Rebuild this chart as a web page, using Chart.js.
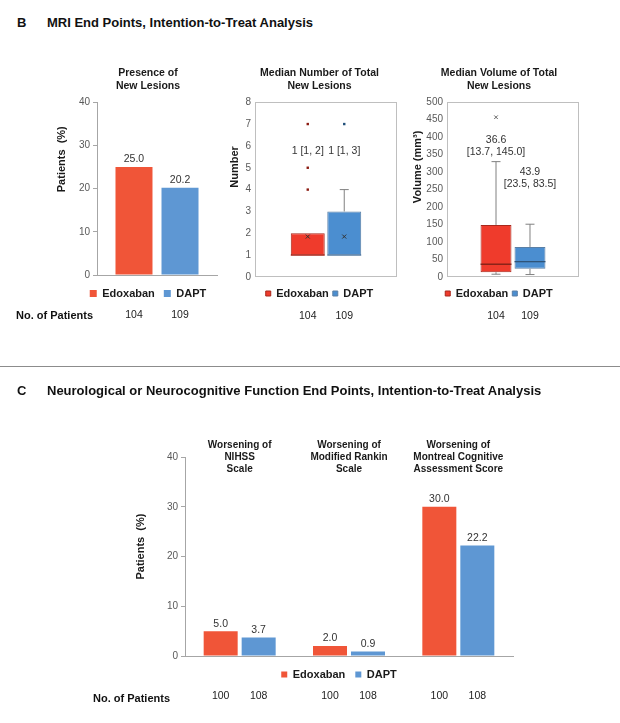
<!DOCTYPE html>
<html>
<head>
<meta charset="utf-8">
<script src="https://cdn.jsdelivr.net/npm/chart.js@4.4.1/dist/chart.umd.min.js"></script>
<style>
  body { margin: 0; background: #fff; font-family: "Liberation Sans", Arial, sans-serif; }
  #page { position: relative; width: 620px; height: 723px; }
  canvas { position: absolute; }
  .head { position: absolute; font-weight: bold; font-size: 13px; line-height: 14px; color: #111; white-space: nowrap; }
  .npat { position: absolute; font-weight: bold; font-size: 11px; line-height: 14px; color: #111; white-space: nowrap; }
  .rule { position: absolute; left: 0; top: 366px; width: 620px; height: 0; border-top: 1.5px solid #8c8c8c; }
</style>
</head>
<body>
<div id="page">
  <div class="head" style="left:17px;top:16px">B</div>
  <div class="head" style="left:47px;top:16px">MRI End Points, Intention-to-Treat Analysis</div>

  <canvas id="presence" width="185" height="263" style="left:40px;top:60px"></canvas>
  <canvas id="lesionCount" width="185" height="263" style="left:222px;top:60px"></canvas>
  <canvas id="lesionVolume" width="185" height="263" style="left:405px;top:60px"></canvas>
  <div class="npat" style="left:16px;top:308px">No. of Patients</div>

  <div class="rule"></div>

  <div class="head" style="left:17px;top:384px">C</div>
  <div class="head" style="left:47px;top:384px">Neurological or Neurocognitive Function End Points, Intention-to-Treat Analysis</div>

  <canvas id="neuro" width="398" height="270" style="left:125px;top:435px"></canvas>
  <div class="npat" style="left:93px;top:691px">No. of Patients</div>
</div>

<script>
// ---- data ----
const groups = ['Edoxaban', 'DAPT'];
const patientsMRI = [104, 109];

// B: presence of new lesions (%)
const lesionPresence = [25.0, 20.2];

// B: number of total new lesions (box plot)
const countQ1 = [1, 1];
const countQ3 = [2, 3];
const countMedian = [1, 1];
const countMean = [1.85, 1.85];
const countLow = [1, 1];
const countHigh = [2, 4];
const countOutliers = [[4, 5, 7], [7]];
const countNotes = [['1 [1, 2]'], ['1 [1, 3]']];

// B: volume of total new lesions, mm3 (box plot)
const volQ1 = [13.7, 23.5];
const volQ3 = [149, 86];
const volMedian = [36.6, 43.9];
const volLow = [8, 7];
const volHigh = [330, 151];
const volOutliers = [[457], []];
const volNotes = [['36.6', '[13.7, 145.0]'], ['43.9', '[23.5, 83.5]']];

// C: neurological end points (%)
const neuroCategories = [
  ['Worsening of', 'NIHSS', 'Scale'],
  ['Worsening of', 'Modified Rankin', 'Scale'],
  ['Worsening of', 'Montreal Cognitive', 'Assessment Score']
];
const neuroEdoxaban = [5.0, 2.0, 30.0];
const neuroDAPT = [3.7, 0.9, 22.2];
const patientsNeuro = [[100, 100, 100], [108, 108, 108]];

// ---- styles ----
const FONT = '"Liberation Sans", Arial, sans-serif';
const barRed = '#F05538';
const barBlue = '#5E97D3';
const boxRed = '#EF3B2C';
const boxBlue = '#4B8ED0';
const axisGray = '#A6A6A6';
const textDark = '#1a1a1a';

Chart.defaults.font.family = FONT;
Chart.defaults.color = textDark;

function cross(ctx, x, y, s, color) {
  ctx.strokeStyle = color;
  ctx.lineWidth = 1;
  ctx.beginPath();
  ctx.moveTo(x - s, y - s); ctx.lineTo(x + s, y + s);
  ctx.moveTo(x - s, y + s); ctx.lineTo(x + s, y - s);
  ctx.stroke();
}

// draws frame, whiskers, medians, value labels, notes, patient counts, y titles
const extras = {
  id: 'extras',
  afterDatasetsDraw(chart, args, o) {
    const ctx = chart.ctx, a = chart.chartArea, ys = chart.scales.y;
    ctx.save();
    if (o.frame) {
      ctx.strokeStyle = '#BFBFBF';
      ctx.lineWidth = 1;
      ctx.strokeRect(Math.round(a.left) + 0.5, Math.round(a.top) + 0.5, Math.round(a.width) - 1, Math.round(a.height) - 1);
    }
    chart.data.datasets.forEach((ds, i) => {
      chart.getDatasetMeta(i).data.forEach((bar, j) => {
        const x = bar.x, hw = bar.width / 2;
        if (o.box) {
          const b = o.box;
          const y1 = ys.getPixelForValue(ds.data[j][0]);
          const y3 = ys.getPixelForValue(ds.data[j][1]);
          ctx.strokeStyle = '#808080';
          ctx.lineWidth = 1;
          [[b.high[i], y3], [b.low[i], y1]].forEach(([v, edge]) => {
            const yy = ys.getPixelForValue(v);
            if (Math.abs(yy - edge) < 1) return;
            ctx.beginPath();
            ctx.moveTo(x, edge); ctx.lineTo(x, yy);
            ctx.moveTo(x - 4.5, yy); ctx.lineTo(x + 4.5, yy);
            ctx.stroke();
          });
          const my = ys.getPixelForValue(b.median[i]);
          ctx.strokeStyle = b.medianColors[i];
          ctx.lineWidth = 1.3;
          ctx.beginPath(); ctx.moveTo(x - hw, my); ctx.lineTo(x + hw, my); ctx.stroke();
          if (b.mean) cross(ctx, x, ys.getPixelForValue(b.mean[i]), 2, '#333');
          b.outliers[i].forEach(v => {
            const oy = ys.getPixelForValue(v);
            if (b.dots) {
              ctx.fillStyle = b.outlierColors[i];
              ctx.fillRect(x - 1.2, oy - 1.2, 2.4, 2.4);
            } else {
              cross(ctx, x, oy, 1.8, b.outlierColors[i]);
            }
          });
          if (b.notes) {
            ctx.fillStyle = '#333';
            ctx.font = '10.5px ' + FONT;
            ctx.textAlign = 'center';
            ctx.textBaseline = 'middle';
            b.notes[i].forEach((t, k) => ctx.fillText(t, x, ys.getPixelForValue(b.noteAt[i]) + k * 12));
          }
        }
        if (o.values) {
          ctx.fillStyle = '#333';
          ctx.font = '10.5px ' + FONT;
          ctx.textAlign = 'center';
          ctx.textBaseline = 'middle';
          ctx.fillText(ds.data[j].toFixed(1), x, bar.y - 7.5);
        }
        if (o.counts) {
          ctx.fillStyle = '#222';
          ctx.font = '10.5px ' + FONT;
          ctx.textAlign = 'center';
          ctx.textBaseline = 'middle';
          ctx.fillText(String(o.counts[i][j]), x, a.bottom + o.countOffset);
        }
      });
    });
    if (o.catTitles) {
      ctx.fillStyle = textDark;
      ctx.font = 'bold 10px ' + FONT;
      ctx.textAlign = 'center';
      ctx.textBaseline = 'middle';
      o.catTitles.forEach((lines, j) => {
        const x = chart.scales.x.getPixelForValue(j);
        lines.forEach((t, k) => ctx.fillText(t, x, a.top - 12 + k * 12.2));
      });
    }
    if (o.yTitle) {
      ctx.translate(o.yTitle.x, a.top + a.height * o.yTitle.at);
      ctx.rotate(-Math.PI / 2);
      ctx.fillStyle = textDark;
      ctx.font = 'bold 11px ' + FONT;
      ctx.textAlign = 'center';
      ctx.textBaseline = 'middle';
      ctx.fillText(o.yTitle.text, 0, 0);
    }
    ctx.restore();
  }
};
Chart.register(extras);

function makeOptions(p) {
  return {
    responsive: false,
    animation: false,
    layout: { padding: p.padding },
    plugins: {
      title: p.title ? {
        display: true, text: p.title, color: textDark,
        font: { size: 10.5, weight: 'bold', lineHeight: 1.2 },
        padding: { top: 7, bottom: 10 }
      } : { display: false },
      legend: {
        position: 'bottom',
        labels: {
          boxWidth: p.legendBox, boxHeight: p.legendBox, padding: p.legendGap,
          color: textDark, font: { size: 11, weight: 'bold' }
        }
      },
      tooltip: { enabled: false },
      extras: p.extras
    },
    scales: {
      x: {
        grid: { display: false, drawTicks: false },
        ticks: { display: false },
        border: { display: !p.frame, color: axisGray },
        afterFit: s => { s.height = p.xHeight; }
      },
      y: {
        min: 0, max: p.max,
        ticks: { stepSize: p.step, autoSkip: false, color: '#595959', font: { size: 10 }, padding: p.frame ? 4 : 3 },
        grid: p.frame ? { display: false, drawTicks: false } : { display: true, drawOnChartArea: false, tickLength: 4, color: axisGray },
        border: { display: !p.frame, color: axisGray },
        afterFit: s => { s.width = p.yWidth; }
      }
    }
  };
}

// B1 presence of new lesions
new Chart(document.getElementById('presence'), {
  type: 'bar',
  data: {
    labels: [''],
    datasets: groups.map((g, i) => ({
      label: g, data: [lesionPresence[i]],
      backgroundColor: i === 0 ? barRed : barBlue,
      barPercentage: 0.804, categoryPercentage: 0.767
    }))
  },
  options: makeOptions({
    title: ['Presence of', 'New Lesions'],
    padding: { left: 39, right: 8, top: 0, bottom: 14 },
    yWidth: 18, xHeight: 4, max: 40, step: 10,
    legendBox: 7, legendGap: 9,
    extras: {
      values: true,
      counts: patientsMRI.map(n => [n]), countOffset: 40,
      yTitle: { text: 'Patients  (%)', x: 22, at: 0.33 }
    }
  })
});

// B2 number of new lesions
new Chart(document.getElementById('lesionCount'), {
  type: 'bar',
  data: {
    labels: [''],
    datasets: groups.map((g, i) => ({
      label: g, data: [[countQ1[i], countQ3[i]]],
      backgroundColor: i === 0 ? boxRed : boxBlue,
      borderColor: i === 0 ? '#A8281C' : '#5A7FA5',
      borderWidth: 1, borderSkipped: false,
      barPercentage: 0.93, categoryPercentage: 0.514
    }))
  },
  options: makeOptions({
    title: ['Median Number of Total', 'New Lesions'],
    padding: { left: 20, right: 10, top: 0, bottom: 14 },
    yWidth: 13, xHeight: 7, max: 8, step: 1, frame: true,
    legendBox: 5, legendGap: 4,
    extras: {
      frame: true,
      box: {
        low: countLow, high: countHigh, median: countMedian, mean: countMean,
        outliers: countOutliers, outlierColors: ['#8B1A10', '#1F4E79'], dots: true,
        medianColors: ['#A8281C', '#5A7FA5'],
        notes: countNotes, noteAt: [5.75, 5.75]
      },
      counts: patientsMRI.map(n => [n]), countOffset: 39,
      yTitle: { text: 'Number', x: 13, at: 0.37 }
    }
  })
});

// B3 volume of new lesions
new Chart(document.getElementById('lesionVolume'), {
  type: 'bar',
  data: {
    labels: [''],
    datasets: groups.map((g, i) => ({
      label: g, data: [[volQ1[i], volQ3[i]]],
      backgroundColor: i === 0 ? boxRed : boxBlue,
      borderColor: i === 0 ? '#A8281C' : '#5A7FA5',
      borderWidth: 1, borderSkipped: false,
      barPercentage: 0.91, categoryPercentage: 0.515
    }))
  },
  options: makeOptions({
    title: ['Median Volume of Total', 'New Lesions'],
    padding: { left: 14, right: 11, top: 0, bottom: 14 },
    yWidth: 28, xHeight: 7, max: 500, step: 50, frame: true,
    legendBox: 5, legendGap: 4,
    extras: {
      frame: true,
      box: {
        low: volLow, high: volHigh, median: volMedian,
        outliers: volOutliers, outlierColors: ['#666', '#666'],
        medianColors: ['#7A2016', '#2F5478'],
        notes: volNotes, noteAt: [391, 300]
      },
      counts: patientsMRI.map(n => [n]), countOffset: 39,
      yTitle: { text: 'Volume (mm³)', x: 13, at: 0.37 }
    }
  })
});

// C neurological end points
new Chart(document.getElementById('neuro'), {
  type: 'bar',
  data: {
    labels: neuroCategories.map(c => c.join(' ')),
    datasets: [
      { label: groups[0], data: neuroEdoxaban, backgroundColor: barRed, barPercentage: 0.895, categoryPercentage: 0.695 },
      { label: groups[1], data: neuroDAPT, backgroundColor: barBlue, barPercentage: 0.895, categoryPercentage: 0.695 }
    ]
  },
  options: makeOptions({
    padding: { left: 40, right: 10, top: 22, bottom: 15 },
    yWidth: 20, xHeight: 3, max: 40, step: 10,
    legendBox: 6, legendGap: 10,
    extras: {
      values: true,
      catTitles: neuroCategories,
      counts: patientsNeuro, countOffset: 40,
      yTitle: { text: 'Patients  (%)', x: 16, at: 0.45 }
    }
  })
});
</script>
</body>
</html>
